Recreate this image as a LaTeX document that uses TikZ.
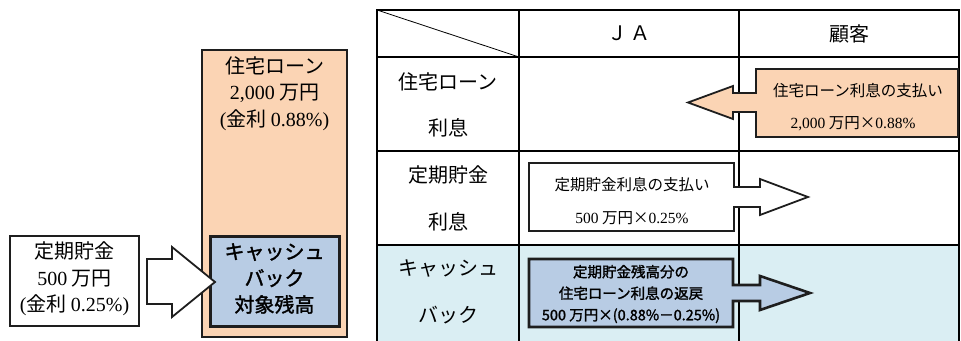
\documentclass[tikz,border=0pt]{standalone}
\usepackage{fontspec}
\setmainfont{Noto Sans CJK JP}
\newfontfamily\jpbf{Noto Sans CJK JP}[FakeBold=1.6]
\newfontfamily\serfont{Liberation Serif}
\newcommand\sr[1]{{\serfont #1}}
\definecolor{peach}{HTML}{FBD4B4}
\definecolor{lblue}{HTML}{B8CCE4}
\definecolor{rowblue}{HTML}{DAEEF3}
\definecolor{edge}{HTML}{1E1E1E}
\begin{document}
\begin{tikzpicture}[x=1pt,y=-1pt,
  tline/.style={line width=2.2pt,black},
  boxline/.style={draw=edge,line width=1.6pt},
  heavy/.style={draw=edge,line width=3pt},
  arrowline/.style={draw=edge,line width=1.8pt,line join=miter},
  big/.style={font=\fontsize{20}{26.5}\selectfont,align=center,inner sep=0pt},
  bigbold/.style={font=\jpbf\fontsize{20}{26.5}\selectfont,align=center,inner sep=0pt},
  small/.style={font=\fontsize{15.5}{21.5}\selectfont,align=center,inner sep=0pt},
  smallbold/.style={font=\jpbf\fontsize{14.5}{21.5}\selectfont,align=center,inner sep=0pt},
  lbl/.style={font=\fontsize{20}{20}\selectfont,inner sep=0pt},
]
\useasboundingbox (0,0) rectangle (961,340);

% ---------- left part ----------
\node[boxline,fill=white,minimum width=129pt,minimum height=90pt,inner sep=0pt] (teiki) at (74.5,281) {};
\node[big] (teikitxt) at (74.5,279) {定期貯金\\\sr{500} 万円\\\sr{(}金利 \sr{0.25\%)}};

\node[boxline,fill=peach,minimum width=145pt,minimum height=287pt,inner sep=0pt] (loan) at (274.5,193.5) {};
\node[big] (loantxt) at (274.5,93.5) {住宅ローン\\\sr{2,000} 万円\\\sr{(}金利 \sr{0.88\%)}};

\node[heavy,fill=lblue,minimum width=129pt,minimum height=90pt,inner sep=0pt] (cb) at (274.5,281) {};
\node[bigbold] (cbtxt) at (274.5,278.5) {キャッシュ\\バック\\対象残高};

\draw[arrowline,fill=white] (147,259) -- (172,259) -- (172,247) -- (215,282)
  -- (172,317) -- (172,304) -- (147,304) -- cycle;

% ---------- table ----------
\fill[rowblue] (377,245) rectangle (959,343);
\draw[tline] (377,343) -- (377,10) -- (959,10) -- (959,343);
\draw[tline] (377,57) -- (959,57);
\draw[tline] (377,151) -- (959,151);
\draw[tline] (377,245) -- (959,245);
\draw[tline] (519,10) -- (519,343);
\draw[tline] (739,10) -- (739,343);
\draw[line width=0.8pt] (377,10) -- (519,57);

\node[lbl] (ja) at (629,33.5) {Ｊ\,Ａ};
\node[lbl] (kokyaku) at (849,33.5) {顧客};

\node[lbl] (r1a) at (448,82) {住宅ローン};
\node[lbl] (r1b) at (448,128) {利息};
\node[lbl] (r2a) at (448,175) {定期貯金};
\node[lbl] (r2b) at (448,222) {利息};
\node[lbl] (r3a) at (448,268) {キャッシュ};
\node[lbl] (r3b) at (448,315) {バック};

% orange callout (left arrow)
\draw[arrowline,fill=peach] (756,69) -- (958,69) -- (958,137) -- (756,137) -- (756,112)
  -- (733,112) -- (733,119) -- (688,102.5) -- (733,86) -- (733,93) -- (756,93) -- cycle;
\node[small] (c1a) at (858,91) {住宅ローン利息の支払い};
\node[small] (c1b) at (853,124) {\sr{2,000} 万円×\sr{0.88\%}};

% white callout (right arrow)
\draw[arrowline,fill=white] (529,163) -- (734,163) -- (734,187) -- (760,187) -- (760,179)
  -- (808,197) -- (760,215) -- (760,207) -- (734,207) -- (734,231) -- (529,231) -- cycle;
\node[small] (c2a) at (632,185) {定期貯金利息の支払い};
\node[small] (c2b) at (632,218) {\sr{500} 万円×\sr{0.25\%}};

% cashback callout (right arrow)
\draw[arrowline,fill=lblue,line width=2.6pt] (529,259) -- (733,259) -- (733,285) -- (760,285) -- (760,276)
  -- (810,293) -- (760,310) -- (760,301) -- (733,301) -- (733,327) -- (529,327) -- cycle;
\node[smallbold] (c3) at (631,294) {定期貯金残高分の\\住宅ローン利息の返戻\\500 万円×(0.88\%－0.25\%)};

\end{tikzpicture}
\end{document}
